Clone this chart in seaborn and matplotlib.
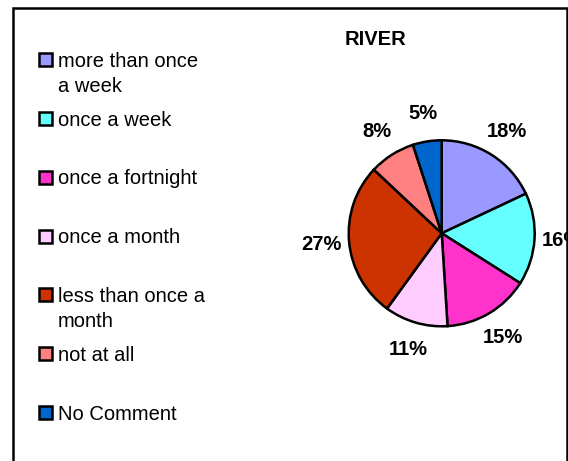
import matplotlib
matplotlib.use("Agg")
import matplotlib.pyplot as plt
import seaborn as sns
from matplotlib.patches import Rectangle

# -------------------------------
# DATA
# -------------------------------
title = "RIVER"
categories = [
    "more than once\na week",
    "once a week",
    "once a fortnight",
    "once a month",
    "less than once a\nmonth",
    "not at all",
    "No Comment",
]
shares = [18, 16, 15, 11, 27, 8, 5]
hex_colors = ["#9999FF", "#66FFFF", "#FF33CC", "#FFCCFF", "#CC3300", "#FF8080", "#0066CC"]

# -------------------------------
# STYLE
# -------------------------------
sns.set_style("white")
plt.rcParams["font.family"] = ["Liberation Sans", "DejaVu Sans"]
plt.rcParams["text.color"] = "black"
palette = sns.color_palette(hex_colors)

W, H = 568, 461
fig = plt.figure(figsize=(W / 100, H / 100), dpi=100)

# outer chart frame
fig.patches.append(Rectangle((13 / W, -0.05), (566.5 - 13) / W, 1.05 - 8 / H,
                             transform=fig.transFigure, fill=False,
                             edgecolor="black", linewidth=1.8))

# -------------------------------
# PIE
# -------------------------------
cx, cy, r = 441.7, 233.3, 93
ax = fig.add_axes([(cx - r) / W, (H - cy - r) / H, 2 * r / W, 2 * r / H])
wedges, texts, autotexts = ax.pie(
    shares, colors=palette, startangle=90, counterclock=False, radius=1,
    autopct="%d%%", pctdistance=1.3,
    wedgeprops={"edgecolor": "black", "linewidth": 1.8},
    textprops={"fontsize": 14.5, "fontweight": "bold", "color": "black"},
)
for t in autotexts:
    t.set_clip_on(False)
ax.set_xlim(-1, 1)
ax.set_ylim(-1, 1)
ax.set_aspect("equal")
ax.axis("off")

fig.text(375 / W, 1 - 39 / H, title, ha="center", va="center",
         fontsize=14.5, fontweight="bold", color="black")

# -------------------------------
# LEGEND (Excel-style, evenly spaced)
# -------------------------------
y0, step = 59.7, 58.8
for i, (lab, col) in enumerate(zip(categories, palette)):
    yc = y0 + i * step
    fig.patches.append(Rectangle((38.5 / W, 1 - (yc + 6.5) / H), 13 / W, 13 / H,
                                 transform=fig.transFigure, facecolor=col,
                                 edgecolor="black", linewidth=1.8))
    fig.text(58 / W, 1 - (yc - 8) / H, lab, ha="left", va="top",
             fontsize=14.5, linespacing=1.4, color="black")

fig.savefig("out.png", dpi=100)
